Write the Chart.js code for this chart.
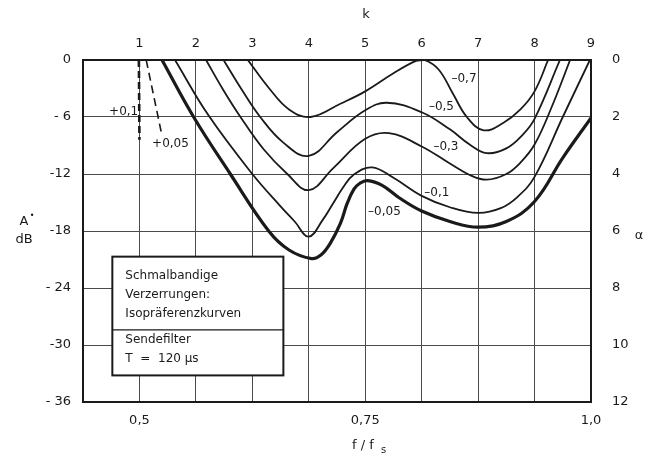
<!DOCTYPE html>
<html>
<head>
<meta charset="utf-8">
<script src="https://cdn.jsdelivr.net/npm/chart.js@4.4.1/dist/chart.umd.min.js"></script>
<style>
  html, body { margin: 0; padding: 0; background: #fff; }
  #wrap { width: 654px; height: 459px; }
</style>
</head>
<body>
<div id="wrap"><canvas id="isoChart" width="654" height="459"></canvas></div>
<script>
// x values are given in k (top scale), y values in A* (dB)
const kTicks = [1, 2, 3, 4, 5, 6, 7, 8, 9];
const fTicks = [0.5, 0.75, 1.0];
const fTickLabels = ['0,5', '0,75', '1,0'];
const dbTicks = [0, -6, -12, -18, -24, -30, -36];
const dbTickLabels = ['0', '- 6', '-12', '-18', '- 24', '-30', '- 36'];
const alphaTicks = [0, 2, 4, 6, 8, 10, 12];

const k07 = [2.92, 3.3, 3.65, 4.03, 4.56, 5.0, 5.5, 5.9, 6.05, 6.3, 6.55, 6.8, 7.1, 7.45, 7.75, 8.0, 8.24];
const a07 = [0, -3.0, -5.2, -6.0, -4.6, -3.3, -1.4, -0.1, 0, -1.0, -3.5, -6.0, -7.4, -6.6, -5.2, -3.3, 0];

const k05 = [2.49, 2.8, 3.14, 3.55, 4.0, 4.5, 5.0, 5.38, 6.0, 6.5, 6.85, 7.15, 7.5, 7.8, 8.0, 8.45];
const a05 = [0, -3.0, -6.0, -8.7, -10.1, -7.6, -5.3, -4.5, -5.5, -7.3, -8.9, -9.8, -9.3, -7.8, -6.2, 0];

const k03 = [2.18, 2.48, 2.79, 3.2, 3.62, 4.0, 4.43, 5.0, 5.42, 6.0, 6.5, 6.85, 7.15, 7.5, 7.75, 8.0, 8.3, 8.63];
const a03 = [0, -3.1, -6.0, -9.4, -12.0, -13.7, -11.4, -8.3, -7.7, -9.1, -10.9, -12.1, -12.6, -12.0, -10.8, -8.9, -5.0, 0];

const k01 = [1.63, 2.22, 3.0, 3.5, 3.75, 4.0, 4.25, 4.43, 4.61, 4.79, 5.12, 5.5, 6.0, 6.5, 7.0, 7.4, 7.7, 8.0, 8.5, 8.98];
const a01 = [0, -5.8, -12.0, -15.4, -17.0, -18.6, -16.8, -15.1, -13.4, -12.1, -11.3, -12.4, -14.3, -15.5, -16.1, -15.6, -14.4, -12.3, -6.0, 0];

const k005 = [1.40, 1.96, 2.61, 3.29, 3.65, 4.05, 4.22, 4.38, 4.56, 4.68, 4.8, 4.9, 5.04, 5.3, 5.6, 6.0, 6.5, 7.0, 7.5, 8.0, 8.5, 9.0];
const a005 = [0, -6.0, -12.0, -18.0, -20.0, -20.9, -20.5, -19.3, -17.2, -15.1, -13.6, -13.0, -12.7, -13.2, -14.5, -15.9, -17.0, -17.6, -17.0, -14.9, -10.3, -6.1];

const kp01 = [0.99, 1.0];
const ap01 = [0, -8.4];
const kp005 = [1.12, 1.39];
const ap005 = [0, -7.7];

const curveLabels = ['–0,7', '–0,5', '–0,3', '–0,1', '–0,05', '+0,1', '+0,05'];

function pts(xs, ys) {
  return xs.map((x, i) => ({ x: x, y: ys[i] }));
}

const FONT = '"DejaVu Sans", "Liberation Sans", sans-serif';
const INK = '#1a1a1a';

function solid(label, xs, ys, width) {
  return {
    label: label,
    data: pts(xs, ys),
    borderColor: INK,
    borderWidth: width,
    pointRadius: 0,
    fill: false,
    tension: 0.4,
    xAxisID: 'x',
    yAxisID: 'y'
  };
}

function dashed(label, xs, ys, width, dash) {
  return {
    label: label,
    data: pts(xs, ys),
    borderColor: INK,
    borderWidth: width,
    borderDash: dash,
    pointRadius: 0,
    fill: false,
    tension: 0,
    xAxisID: 'x',
    yAxisID: 'y'
  };
}

// curve labels, axis titles and the text box are drawn on top of the chart
const annotations = {
  id: 'annotations',
  afterDatasetsDraw(chart) {
    const ctx = chart.ctx;
    const xs = chart.scales.x;
    const ys = chart.scales.y;
    ctx.save();
    ctx.fillStyle = INK;
    ctx.textBaseline = 'middle';

    // labels on the curves
    const labelPos = [[6.75, -2.0], [6.35, -4.9], [6.43, -9.1], [6.27, -14.0], [5.34, -16.0], [0.72, -5.5], [1.55, -8.8]];
    ctx.font = '12px ' + FONT;
    ctx.textAlign = 'center';
    curveLabels.forEach((t, i) => {
      ctx.fillText(t, xs.getPixelForValue(labelPos[i][0]), ys.getPixelForValue(labelPos[i][1]));
    });

    // text box
    const bx0 = xs.getPixelForValue(0.52), bx1 = xs.getPixelForValue(3.55);
    const by0 = ys.getPixelForValue(-20.7), by1 = ys.getPixelForValue(-33.2);
    const bdiv = ys.getPixelForValue(-28.4);
    ctx.fillStyle = '#fff';
    ctx.fillRect(bx0, by0, bx1 - bx0, by1 - by0);
    ctx.strokeStyle = INK;
    ctx.lineWidth = 2;
    ctx.strokeRect(bx0, by0, bx1 - bx0, by1 - by0);
    ctx.lineWidth = 1.2;
    ctx.beginPath();
    ctx.moveTo(bx0, bdiv);
    ctx.lineTo(bx1, bdiv);
    ctx.stroke();
    ctx.fillStyle = INK;
    ctx.textAlign = 'left';
    ctx.font = '12px ' + FONT;
    ctx.fillText('Schmalbandige', bx0 + 13, by0 + 19);
    ctx.fillText('Verzerrungen:', bx0 + 13, by0 + 38);
    ctx.fillText('Isopräferenzkurven', bx0 + 13, by0 + 57);
    ctx.fillText('Sendefilter', bx0 + 13, by0 + 83);
    ctx.fillText('T  =  120 µs', bx0 + 13, by0 + 102);

    // axis titles
    ctx.font = '13px ' + FONT;
    ctx.textAlign = 'center';
    ctx.fillText('k', 366, 15);
    ctx.fillText('α', 639, 236);
    ctx.fillText('A', 24, 222);
    ctx.font = '8px ' + FONT;
    ctx.fillText('•', 32, 216);
    ctx.font = '13px ' + FONT;
    ctx.fillText('dB', 24, 240);
    ctx.textAlign = 'left';
    ctx.fillText('f / f', 352, 446);
    ctx.font = '10px ' + FONT;
    ctx.fillText('s', 381, 450);
    ctx.restore();
  }
};

const ctx = document.getElementById('isoChart').getContext('2d');
const datasets = [
  solid(curveLabels[0], k07, a07, 1.8),
  solid(curveLabels[1], k05, a05, 1.8),
  solid(curveLabels[2], k03, a03, 1.8),
  solid(curveLabels[3], k01, a01, 1.8),
  solid(curveLabels[4], k005, a005, 3.2),
  dashed(curveLabels[5], kp01, ap01, 2.6, [7, 4]),
  dashed(curveLabels[6], kp005, ap005, 1.6, [8, 5])
];

new Chart(ctx, {
  type: 'line',
  data: { datasets: datasets },
  options: {
    responsive: false,
    animation: false,
    layout: { padding: 0 },
    plugins: {
      legend: { display: false },
      tooltip: { enabled: false }
    },
    scales: {
      x: {
        type: 'linear',
        position: 'top',
        min: 0,
        max: 9,
        afterBuildTicks: (s) => { s.ticks = [0].concat(kTicks).map(v => ({ value: v })); },
        afterFit: (s) => { s.height = 60; },
        ticks: {
          color: INK,
          font: { family: FONT, size: 13 },
          padding: 9,
          maxRotation: 0,
          callback: (v) => (v >= 1 ? String(v) : '')
        },
        grid: { color: '#4a4a4a', lineWidth: 1, drawTicks: false },
        border: { display: true, color: INK, width: 2 }
      },
      f: {
        type: 'linear',
        position: 'bottom',
        min: 0.4375,
        max: 1.0,
        afterBuildTicks: (s) => { s.ticks = fTicks.map(v => ({ value: v })); },
        afterFit: (s) => { s.height = 57; },
        ticks: {
          color: INK,
          font: { family: FONT, size: 13 },
          padding: 11,
          maxRotation: 0,
          callback: (v) => fTickLabels[fTicks.indexOf(v)]
        },
        grid: { display: false, drawTicks: false },
        border: { display: true, color: INK, width: 2 }
      },
      y: {
        type: 'linear',
        position: 'left',
        min: -36,
        max: 0,
        afterBuildTicks: (s) => { s.ticks = dbTicks.map(v => ({ value: v })); },
        afterFit: (s) => { s.width = 83; },
        ticks: {
          color: INK,
          font: { family: FONT, size: 13 },
          padding: 12,
          callback: (v) => dbTickLabels[dbTicks.indexOf(v)]
        },
        grid: { color: '#4a4a4a', lineWidth: 1, drawTicks: false },
        border: { display: true, color: INK, width: 2 }
      },
      y2: {
        type: 'linear',
        position: 'right',
        min: 0,
        max: 12,
        reverse: true,
        afterBuildTicks: (s) => { s.ticks = alphaTicks.map(v => ({ value: v })); },
        afterFit: (s) => { s.width = 63; },
        ticks: {
          color: INK,
          font: { family: FONT, size: 13 },
          padding: 21,
          callback: (v) => String(v)
        },
        grid: { display: false, drawTicks: false },
        border: { display: true, color: INK, width: 2 }
      }
    }
  },
  plugins: [annotations]
});
</script>
</body>
</html>
